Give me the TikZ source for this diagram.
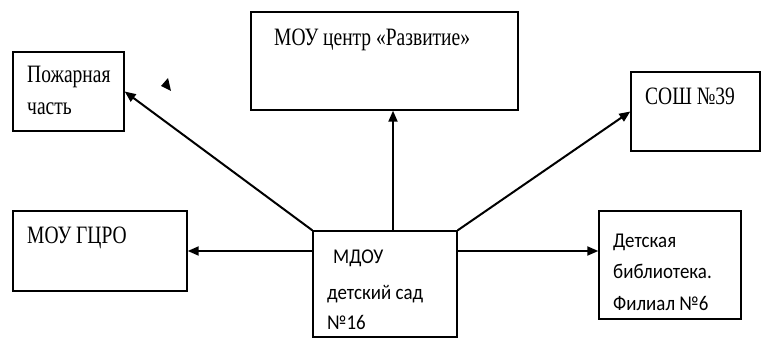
\documentclass[tikz,border=0pt]{standalone}
\usepackage{fontspec}
\usetikzlibrary{arrows.meta}
\newfontfamily\tnrfont[FakeStretch=0.78]{Liberation Serif}
\newfontfamily\calfont[FakeStretch=0.9]{Carlito}
\begin{document}
\begin{tikzpicture}[x=1pt,y=-1pt,
  box/.style={draw, line width=1.4pt, rectangle, inner sep=0pt},
  tt/.style={anchor=base west, inner sep=0pt, font=\tnrfont\fontsize{25}{30}\selectfont},
  ct/.style={anchor=base west, inner sep=0pt, font=\calfont\fontsize{21}{26}\selectfont},
  conn/.style={line width=2pt, -{Triangle[length=11pt,width=9pt]}}]
\useasboundingbox (0,0) rectangle (762,339);
% boxes
\node[box, minimum width=111pt, minimum height=79pt] (p) at (68.5,91.5) {};
\node[box, minimum width=267pt, minimum height=98pt] (m) at (384.5,61) {};
\node[box, minimum width=129pt, minimum height=79pt] (s) at (695.5,111.5) {};
\node[box, minimum width=174pt, minimum height=80pt] (g) at (100,251) {};
\node[box, minimum width=144pt, minimum height=106pt] (c) at (385,284) {};
\node[box, minimum width=142pt, minimum height=108pt] (d) at (670,265) {};
% texts
\node[tt] (p1) at (27,83) {Пожарная};
\node[tt] (p2) at (27,115) {часть};
\node[tt] (m1) at (274,46) {МОУ центр «Развитие»};
\node[tt] (s1) at (645,105) {СОШ №39};
\node[tt] (g1) at (27,243) {МОУ ГЦРО};
\node[ct] (c1) at (333,263) {МДОУ};
\node[ct] (c2) at (327,299) {детский сад};
\node[ct] (c3) at (327,329) {№16};
\node[ct] (d1) at (613,247) {Детская};
\node[ct] (d2) at (613,278) {библиотека.};
\node[ct] (d3) at (613,310) {Филиал №6};
% connectors
\coordinate (vx) at (393,0);
\coordinate (hy) at (0,251);
\draw[conn] (c.north -| vx) -- (m.south -| vx);
\draw[conn] (c.north west) -- (p.east);
\draw[conn] (c.north east) -- (s.west);
\draw[conn] (c.west |- hy) -- (g.east |- hy);
\draw[conn] (c.east |- hy) -- (d.west |- hy);
% stray arrowhead
\fill (161,86) -- (168,78) -- (171,91) -- cycle;
\end{tikzpicture}
\end{document}
